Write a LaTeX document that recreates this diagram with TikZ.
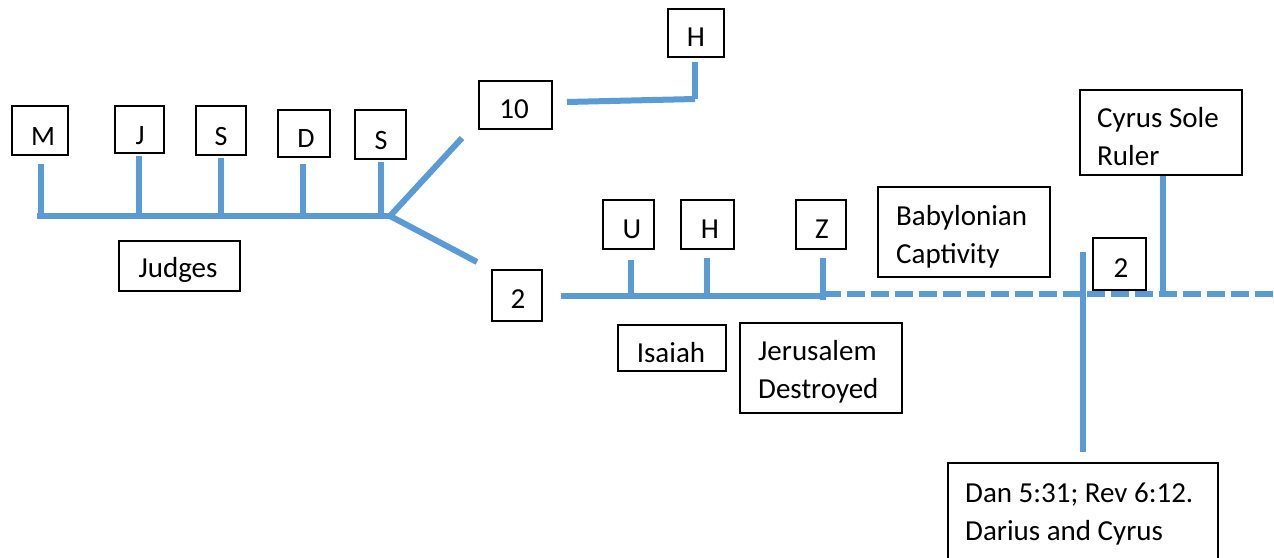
\documentclass[tikz,border=0pt]{standalone}
\usepackage{fontspec}
\setmainfont{Carlito}
\definecolor{lineblue}{HTML}{5B9BD5}
\begin{document}
\begin{tikzpicture}[x=1pt,y=-1pt,
  box/.style={draw=black,line width=2.4pt,inner sep=0pt,fill=white},
  txt/.style={inner sep=0pt,font=\fontsize{29}{38}\selectfont,align=left},
  ltr/.style={inner sep=0pt,font=\fontsize{28}{34}\selectfont},
  tl/.style={draw=lineblue,line width=6pt},
  dl/.style={tl,dash pattern=on 18pt off 6pt}]
\path[use as bounding box,clip] (0,0) rectangle (1274,557);
\fill[white] (0,0) rectangle (1274,557);

% ---------- boxes ----------
\node[box,minimum width=55.6pt,minimum height=48.6pt] (bm) at (40,130.5) {};
\node[box,minimum width=48.6pt,minimum height=46.6pt] (bj) at (139.5,129.5) {};
\node[box,minimum width=49.6pt,minimum height=48.6pt] (bs1) at (221,130.5) {};
\node[box,minimum width=51.6pt,minimum height=46.6pt] (bd) at (304,133.5) {};
\node[box,minimum width=50.6pt,minimum height=48.6pt] (bs2) at (380.5,134.5) {};
\node[box,minimum width=120.6pt,minimum height=49.6pt] (bjudges) at (179.5,266) {};
\node[box,minimum width=72.6pt,minimum height=47.6pt] (bten) at (515.5,105) {};
\node[box,minimum width=55.6pt,minimum height=47.6pt] (bhtop) at (696,33) {};
\node[box,minimum width=49.6pt,minimum height=50.6pt] (btwoa) at (517,295.5) {};
\node[box,minimum width=50.6pt,minimum height=48.6pt] (bu) at (628.5,224.5) {};
\node[box,minimum width=52.6pt,minimum height=48.6pt] (bhmid) at (707.5,224.5) {};
\node[box,minimum width=49.6pt,minimum height=48.6pt] (bz) at (821,224.5) {};
\node[box,minimum width=107.6pt,minimum height=45.6pt] (bisaiah) at (672,348) {};
\node[box,minimum width=161.6pt,minimum height=89.6pt] (bjeru) at (821,368) {};
\node[box,minimum width=171.6pt,minimum height=89.6pt] (bbaby) at (964,232) {};
\node[box,minimum width=161.6pt,minimum height=84.6pt] (bcyrus) at (1161,132.5) {};
\node[box,minimum width=52.6pt,minimum height=51.6pt] (btwob) at (1119.5,264) {};
\node[box,minimum width=269.6pt,minimum height=140pt] (bdan) at (1083,533) {};

% ---------- texts (multi-line texts are placed by their last baseline) ----------
\node[ltr,anchor=base] (tm) at (43,145) {M};
\node[ltr,anchor=base] (tj) at (140,144) {J};
\node[ltr,anchor=base] (ts1) at (221,145) {S};
\node[ltr,anchor=base] (td) at (306,147) {D};
\node[ltr,anchor=base] (ts2) at (381,149) {S};
\node[txt,anchor=base] (tjudges) at (178,277) {Judges};
\node[txt,anchor=base] (tten) at (514,118) {10};
\node[txt,anchor=base] (thtop) at (696,46) {H};
\node[txt,anchor=base] (ttwoa) at (518,308) {2};
\node[txt,anchor=base] (tu) at (632,238) {U};
\node[txt,anchor=base] (thmid) at (710,238) {H};
\node[txt,anchor=base] (tz) at (822,238) {Z};
\node[txt,anchor=base] (tisaiah) at (671,362) {Isaiah};
\node[txt,anchor=base west] (tjeru) at (758,398) {Jerusalem\\Destroyed};
\node[txt,anchor=base west] (tbaby) at (896,263) {Babylonian\\Captivity};
\node[txt,anchor=base west] (tcyrus) at (1097,165) {Cyrus Sole\\Ruler};
\node[txt,anchor=base] (ttwob) at (1121,277) {2};
\node[txt,anchor=base west] (tdan) at (965,540) {Dan 5:31; Rev 6:12.\\Darius and Cyrus};

% ---------- line end points ----------
\coordinate (ja) at (37,216);
\coordinate (jfork) at (390,216);
\coordinate (jm) at (41,216);   \coordinate (jmt) at (41,164);
\coordinate (jj) at (139,216);  \coordinate (jjt) at (139,156);
\coordinate (js1) at (221,216); \coordinate (js1t) at (221,158);
\coordinate (jd) at (303,216);  \coordinate (jdt) at (303,164);
\coordinate (js2) at (381,216); \coordinate (js2t) at (381,162);
\coordinate (up) at (462,138);
\coordinate (down) at (477,262);
\coordinate (ka) at (567,102);
\coordinate (kb) at (695,99);
\coordinate (kc) at (695,62);
\coordinate (la) at (561,296);
\coordinate (lz) at (823,296);
\coordinate (lu) at (631,296);  \coordinate (lut) at (631,260);
\coordinate (lh) at (707,296);  \coordinate (lht) at (707,258);
\coordinate (lzt) at (823,258); \coordinate (lzb) at (823,300);
\coordinate (da) at (823,294);
\coordinate (db) at (1274,294);
\coordinate (va) at (1083,252);
\coordinate (vb) at (1083,452);
\coordinate (ca) at (1163,176);
\coordinate (cb) at (1163,297);

% ---------- timeline of the judges ----------
\draw[tl] (ja) -- (jfork);
\draw[tl] (jmt) -- (jm);
\draw[tl] (jjt) -- (jj);
\draw[tl] (js1t) -- (js1);
\draw[tl] (jdt) -- (jd);
\draw[tl] (js2t) -- (js2);
\draw[tl] (jfork) -- (up);
\draw[tl] (jfork) -- (down);

% ---------- northern branch ----------
\draw[tl] (ka) -- (kb);
\draw[tl] (kb) -- (kc);

% ---------- southern branch ----------
\draw[tl] (la) -- (lz);
\draw[tl] (lut) -- (lu);
\draw[tl] (lht) -- (lh);
\draw[tl] (lzt) -- (lzb);
\draw[dl] (da) -- (db);
\draw[tl] (va) -- (vb);
\draw[tl] (ca) -- (cb);
\end{tikzpicture}
\end{document}
